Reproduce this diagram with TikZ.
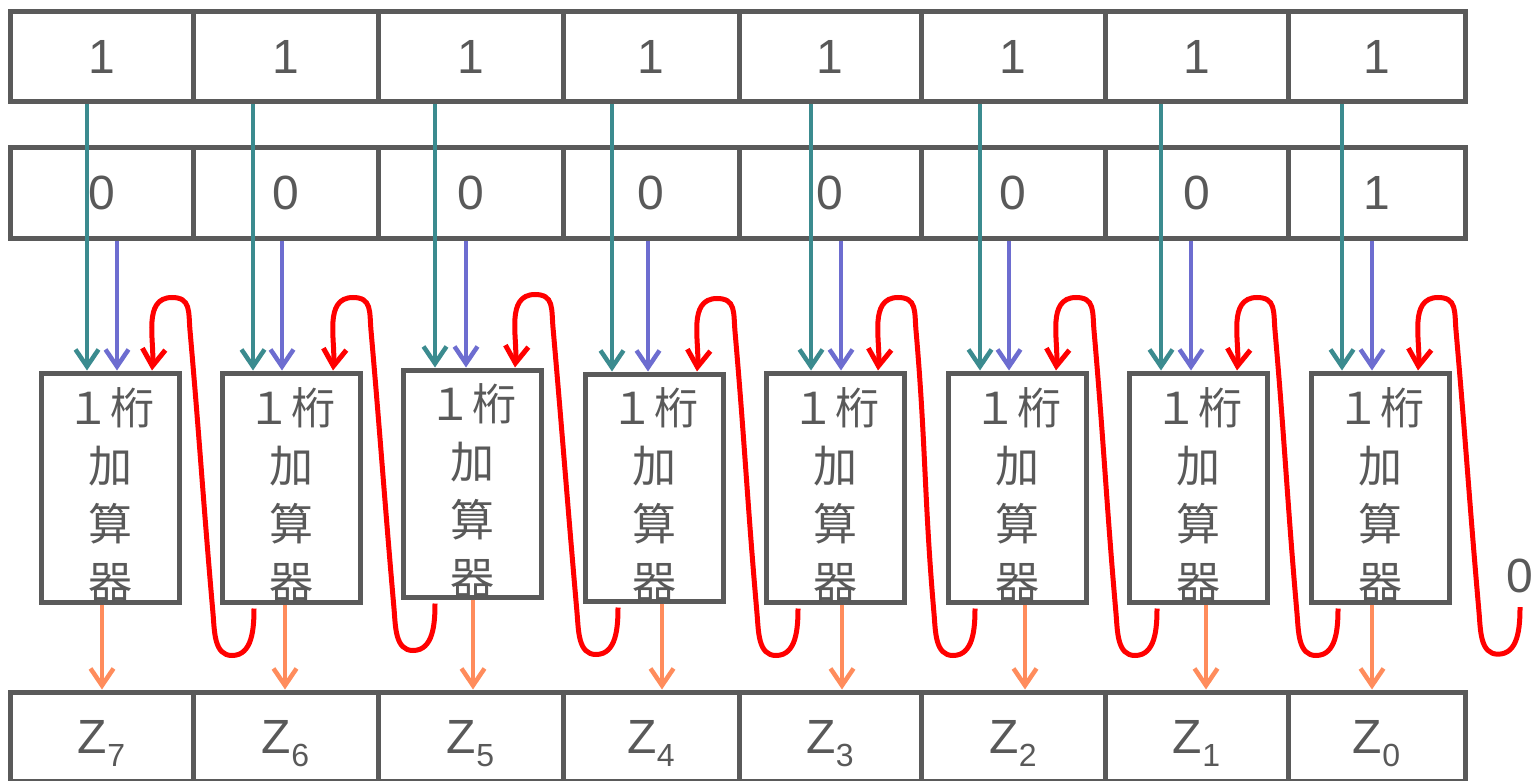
\documentclass[tikz,border=0pt]{standalone}
\usepackage{fontspec}
\setmainfont{Liberation Sans}
\newfontfamily\cjk{Noto Sans CJK JP}
\usetikzlibrary{arrows.meta,calc}
\definecolor{boxgray}{HTML}{5A5A5A}
\definecolor{txtgray}{HTML}{595959}
\definecolor{xteal}{HTML}{3B8B8F}
\definecolor{yviolet}{HTML}{6D6DD0}
\definecolor{sumorange}{HTML}{FF8C5C}
\definecolor{carryred}{HTML}{FF0000}
\tikzset{
  cell/.style={draw=boxgray, line width=5pt, minimum height=90pt, inner sep=0pt,
    text=txtgray, font=\fontsize{48}{48}\selectfont},
  adder/.style={draw=boxgray, line width=5pt, minimum width=138pt, inner sep=0pt},
  addtext/.style={text=txtgray, align=center, inner sep=0pt,
    font=\cjk\fontsize{44}{58}\selectfont},
  bit/.style={line width=4.5pt, -{Straight Barb[length=17pt,width=23pt]}},
  carry/.style={bit, carryred, line width=5pt},
}
\begin{document}
\begin{tikzpicture}[x=1pt,y=1pt]
\useasboundingbox (0,0) rectangle (1531,-781);

% registers: X, Y and the sum Z
\foreach \i/\l/\r/\b in {7/10/193/0,6/193/378/0,5/378/563/0,4/563/739/0,
                         3/739/921/0,2/921/1105/0,1/1105/1288/0,0/1288/1465/1}{
  \node[cell, minimum width={(\r-\l)*1pt}] (x\i) at ({(\l+\r)/2},-57) {1};
  \node[cell, minimum width={(\r-\l)*1pt}] (y\i) at ({(\l+\r)/2},-193) {\b};
  \node[cell, minimum width={(\r-\l)*1pt}, minimum height=89pt, text depth=0pt] (z\i)
    at ({(\l+\r)/2},-736.5) {Z\raisebox{-13pt}{\fontsize{32}{32}\selectfont\i}};
}

% one-digit adders
\foreach \i/\xc/\yc/\h/\tx/\px/\rx/\ox/\cx in {
    7/110/-487.5/229/87/117/152/102/0,
    6/291/-487.5/229/253/282/333/285/254,
    5/472.5/-483.5/227/435/466/515/473/435,
    4/654/-487.5/227/612/648/697/662/618,
    3/835/-487.5/229/811/841/878/842/798,
    2/1017/-487.5/229/980/1009/1056/1025/975,
    1/1198.5/-487.5/229/1161/1191/1237/1206/1157,
    0/1380/-487.5/229/1342/1372/1418/1372/1338}{
  \node[adder, minimum height=\h pt] (fa\i) at (\xc,\yc) {};
  \node[addtext] (ft\i) at ([yshift=-7pt]fa\i.center) {１桁\\加\\算\\器};
  \coordinate (tx\i) at (\tx,0);
  \coordinate (px\i) at (\px,0);
  \coordinate (rx\i) at (\rx,0);
  \coordinate (ox\i) at (\ox,0);
  \coordinate (cx\i) at (\cx,0);
  \coordinate (co\i) at ($(fa\i.south -| cx\i)+(0,-4)$);
  \draw[bit, xteal] (x\i.south -| tx\i) -- (fa\i.north -| tx\i);
  \draw[bit, yviolet] (y\i.south -| px\i) -- (fa\i.north -| px\i);
  \draw[bit, sumorange] (fa\i.south -| ox\i) -- (z\i.north -| ox\i);
}

% carry chain
\node[text=txtgray, font=\fontsize{48}{48}\selectfont, inner sep=0pt] (cin) at (1520,-576) {0};
\coordinate (coin) at ($(cin.south)+(0,-14)$);
\foreach \i/\j in {7/6,6/5,5/4,4/3,3/2,2/1,1/0,0/in}
  \draw[carry] (co\j) to[out=-90,in=0] ++(-22,-47) to[out=180,in=-85] ++(-19,42)
    to[out=95,in=-85] ($(fa\i.north -| rx\i)+(38,40)$)
    to[out=95,in=0,looseness=1.3] ($(fa\i.north -| rx\i)+(20,73)$)
    to[out=180,in=85] (fa\i.north -| rx\i);

\end{tikzpicture}
\end{document}
